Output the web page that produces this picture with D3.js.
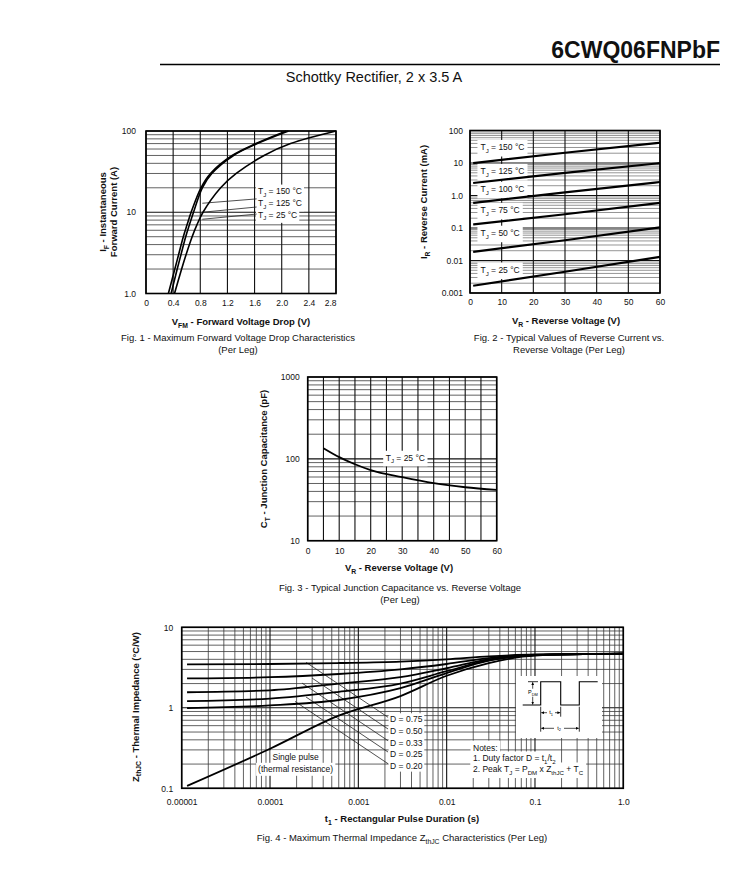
<!DOCTYPE html>
<html>
<head>
<meta charset="utf-8">
<script src="https://cdn.jsdelivr.net/npm/d3@7"></script>
<style>
  body { margin: 0; background: #fff; }
  svg { font-family: "Liberation Sans", Arial, Helvetica, sans-serif; }
</style>
</head>
<body>
<div class="chart"></div>
<script>
// Fig. 1 - max forward voltage drop, per leg
const fwdAmps     = [1, 2, 3, 5, 7, 10, 20, 30, 50, 70, 100];
const fwdVolts150 = [0.33, 0.425, 0.48, 0.55, 0.605, 0.665, 0.81, 0.95, 1.27, 1.62, 2.07];
const fwdVolts125 = [0.37, 0.46, 0.515, 0.585, 0.64, 0.70, 0.83, 0.97, 1.29, 1.64, 2.10];
const fwdVolts25  = [0.42, 0.525, 0.59, 0.68, 0.75, 0.84, 1.10, 1.33, 1.74, 2.13, 2.80];
const fwdTemps    = ["150", "125", "25"];
const fwdXTicks   = [0, 0.4, 0.8, 1.2, 1.6, 2.0, 2.4, 2.8];
const fwdXLabels  = ["0", "0.4", "0.8", "1.2", "1.6", "2.0", "2.4", "2.8"];
const fwdYTicks   = [1, 10, 100];
const fwdYLabels  = ["1.0", "10", "100"];

// Fig. 2 - reverse current (mA) vs reverse voltage
const revVolts   = [1, 30, 60];
const revTemps   = ["150", "125", "100", "75", "50", "25"];
const revmA150   = [9.9, 20.7, 41.9];
const revmA125   = [2.42, 5.0, 9.9];
const revmA100   = [0.59, 1.25, 2.6];
const revmA75    = [0.128, 0.265, 0.59];
const revmA50    = [0.0185, 0.042, 0.104];
const revmA25    = [0.00167, 0.0045, 0.013];
const revXTicks  = [0, 10, 20, 30, 40, 50, 60];
const revYTicks  = [0.001, 0.01, 0.1, 1, 10, 100];
const revYLabels = ["0.001", "0.01", "0.1", "1.0", "10", "100"];

// Fig. 3 - junction capacitance
const capVolts   = [5, 10, 15, 20, 30, 40, 50, 60];
const capPf      = [135, 105, 86, 73, 59.7, 50.4, 45, 41.7];
const capXTicks  = [0, 10, 20, 30, 40, 50, 60];
const capYTicks  = [10, 100, 1000];
const capYLabels = ["10", "100", "1000"];

// Fig. 4 - thermal impedance
const pulseSec    = [1.15e-5, 1e-4, 6e-4, 3e-3, 1e-2, 3e-2, 0.1, 1];
const zthD75      = [3.47, 3.5, 3.6, 3.75, 4.0, 4.35, 4.6, 4.7];
const zthD50      = [2.32, 2.4, 2.63, 3.0, 3.5, 4.15, 4.55, 4.7];
const zthD33      = [1.56, 1.65, 2.0, 2.4, 3.1, 4.0, 4.5, 4.7];
const zthD25      = [1.21, 1.3, 1.58, 2.0, 2.85, 3.9, 4.5, 4.7];
const zthD20      = [0.99, 1.07, 1.25, 1.75, 2.7, 3.85, 4.5, 4.7];
const zthSingle   = [0.107, 0.31, 0.8, 1.4, 2.5, 3.6, 4.45, 4.7];
const dutyLabels  = ["0.75", "0.50", "0.33", "0.25", "0.20"];
const zthXTicks   = [1e-5, 1e-4, 1e-3, 1e-2, 1e-1, 1];
const zthXLabels  = ["0.00001", "0.0001", "0.001", "0.01", "0.1", "1.0"];
const zthYTicks   = [0.1, 1, 10];
const zthYLabels  = ["0.1", "1", "10"];

const svg = d3.select('.chart')
  .append('svg')
  .attr('width', 748)
  .attr('height', 876);

svg.append('rect').attr('width', 748).attr('height', 876).attr('fill', '#fff');

// text with "_sub" parts
function rich(t, parts, size) {
  let shift = 0;
  parts.forEach(s => {
    const sub = s[0] === '_';
    const span = t.append('tspan').text(sub ? s.slice(1) : s);
    const want = sub ? size * 0.3 : 0;
    if (want !== shift) span.attr('dy', want - shift);
    if (sub) span.attr('font-size', size * 0.72);
    shift = want;
  });
  return t;
}

function isDecade(d) {
  const l = Math.log10(d);
  return Math.abs(l - Math.round(l)) < 1e-6;
}

function panel(p) {
  const g = svg.append('g').attr('transform', `translate(${p.left},${p.top})`);
  const x = (p.xLog ? d3.scaleLog() : d3.scaleLinear()).domain(p.xDomain).range([0, p.width]);
  const y = d3.scaleLog().domain(p.yDomain).range([p.height, 0]);
  const grid = g.append('g');
  const boxes = g.append('g');
  const marks = g.append('g');

  grid.append('g').selectAll('line')
    .data(y.ticks())
    .join('line')
    .attr('x1', 0).attr('x2', p.width)
    .attr('y1', d => y(d)).attr('y2', d => y(d))
    .attr('stroke', d => isDecade(d) ? '#111' : p.minor)
    .attr('stroke-width', d => isDecade(d) ? 1.1 : 0.8);

  grid.append('g').selectAll('line')
    .data(p.xLog ? x.ticks() : p.xGrid)
    .join('line')
    .attr('y1', 0).attr('y2', p.height)
    .attr('x1', d => x(d)).attr('x2', d => x(d))
    .attr('stroke', d => (p.xLog && !isDecade(d)) ? p.minor : '#111')
    .attr('stroke-width', d => (p.xLog && !isDecade(d)) ? 0.8 : 1.1);

  const xAxis = d3.axisBottom(x)
    .tickValues(p.xTicks)
    .tickFormat((d, i) => p.xLabels[i])
    .tickSize(0)
    .tickPadding(p.xPad);
  const yAxis = d3.axisLeft(y)
    .tickValues(p.yTicks)
    .tickFormat((d, i) => p.yLabels[i])
    .tickSize(0)
    .tickPadding(p.yPad);

  const xa = g.append('g')
    .attr('transform', `translate(0,${p.height})`)
    .call(xAxis);
  const ya = g.append('g').call(yAxis);
  [xa, ya].forEach(a => {
    a.select('.domain').remove();
    a.attr('font-family', null).attr('font-size', 8.5);
    a.selectAll('text').attr('fill', '#111');
  });

  g.append('rect')
    .attr('width', p.width).attr('height', p.height)
    .attr('fill', 'none').attr('stroke', '#000').attr('stroke-width', 1.6);

  return {g, x, y, boxes, marks, xa, ya};
}

function labelBox(p, px, py, parts, size, pad, anchor) {
  const t = p.marks.append('text')
    .attr('x', px).attr('y', py)
    .attr('font-size', size)
    .attr('dy', '0.35em')
    .attr('fill', '#111')
    .attr('text-anchor', anchor || 'start');
  rich(t, parts, size);
  const b = t.node().getBBox();
  p.boxes.append('rect')
    .attr('x', b.x - pad).attr('y', b.y - pad + 0.5)
    .attr('width', b.width + 2 * pad).attr('height', b.height + 2 * pad - 1)
    .attr('fill', '#fff');
  return t;
}

function pageText(x, y, parts, size, bold, anchor, rotate) {
  const t = svg.append('text')
    .attr('font-size', size)
    .attr('font-weight', bold ? 'bold' : null)
    .attr('text-anchor', anchor || 'middle')
    .attr('fill', '#111');
  if (rotate) t.attr('transform', `translate(${x},${y}) rotate(-90)`);
  else t.attr('x', x).attr('y', y);
  return rich(t, parts, size);
}

// ---- header
pageText(720, 58, ["6CWQ06FNPbF"], 23, true, 'end');
svg.append('line').attr('x1', 160).attr('x2', 720).attr('y1', 64.5).attr('y2', 64.5)
  .attr('stroke', '#000').attr('stroke-width', 1.3);
pageText(374, 82, ["Schottky Rectifier, 2 x 3.5 A"], 14.5, false);

// ---- Fig. 1
const p1 = panel({
  left: 146, top: 131, width: 190, height: 162.5,
  xDomain: [0, 2.8], yDomain: [1, 100],
  xGrid: fwdXTicks, xTicks: fwdXTicks, xLabels: fwdXLabels,
  yTicks: fwdYTicks, yLabels: fwdYLabels,
  xPad: 6, yPad: 10, minor: '#3a3a3a'
});
p1.xa.selectAll('text').filter((d, i) => i === fwdXTicks.length - 1).attr('text-anchor', 'end');

const fwdLine = d3.line()
  .x(d => p1.x(d[0]))
  .y(d => p1.y(d[1]))
  .curve(d3.curveCatmullRom.alpha(0.5));

// label boxes + leaders (150, 125, 25)
const fwdLabelAmps = [18.2, 12.9, 9.3];
const fwdLeadStart = [12.9, 10.0, 8.2];
const fwdLeadEnd   = [14.6, 11.6, 9.5];
fwdTemps.forEach((tmp, i) => {
  labelBox(p1, p1.x(1.65), p1.y(fwdLabelAmps[i]), ["T", "_J", " = " + tmp + " °C"], 8.5, 2);
  p1.marks.append('line')
    .attr('x1', p1.x(0.83)).attr('y1', p1.y(fwdLeadStart[i]))
    .attr('x2', p1.x(1.63)).attr('y2', p1.y(fwdLeadEnd[i]))
    .attr('stroke', '#222').attr('stroke-width', 0.8);
});

[fwdVolts150, fwdVolts125, fwdVolts25].forEach(vs => {
  p1.marks.append('path')
    .datum(vs.map((v, i) => [v, fwdAmps[i]]))
    .attr('d', fwdLine)
    .attr('fill', 'none').attr('stroke', '#000').attr('stroke-width', 1.6);
});

pageText(241, 325, ["V", "_FM", " - Forward Voltage Drop (V)"], 9.5, true);
pageText(106, 212, ["I", "_F", " - Instantaneous"], 9.5, true, 'middle', true);
pageText(117, 212, ["Forward Current (A)"], 9.5, true, 'middle', true);
pageText(238, 341, ["Fig. 1 - Maximum Forward Voltage Drop Characteristics"], 9.5, false);
pageText(238, 353, ["(Per Leg)"], 9.5, false);

// ---- Fig. 2
const p2 = panel({
  left: 470, top: 130.5, width: 190, height: 162.5,
  xDomain: [0, 60], yDomain: [0.001, 100],
  xGrid: revXTicks, xTicks: revXTicks, xLabels: revXTicks.map(String),
  yTicks: revYTicks, yLabels: revYLabels,
  xPad: 6, yPad: 7, minor: '#7a7a7a'
});

const revLine = d3.line()
  .x(d => p2.x(d[0]))
  .y(d => p2.y(d[1]))
  .curve(d3.curveMonotoneX);

const revLabelmA = [30, 5.5, 1.55, 0.35, 0.069, 0.0051];
revTemps.forEach((tmp, i) => {
  labelBox(p2, p2.x(3.3), p2.y(revLabelmA[i]), ["T", "_J", " = " + tmp + " °C"], 8.5, 3);
});

[revmA150, revmA125, revmA100, revmA75, revmA50, revmA25].forEach(ms => {
  p2.marks.append('path')
    .datum(ms.map((m, i) => [revVolts[i], m]))
    .attr('d', revLine)
    .attr('fill', 'none').attr('stroke', '#000').attr('stroke-width', 2.2);
});

pageText(566, 324, ["V", "_R", " - Reverse Voltage (V)"], 9.5, true);
pageText(427, 202, ["I", "_R", " - Reverse Current (mA)"], 9.5, true, 'middle', true);
pageText(569, 341, ["Fig. 2 - Typical Values of Reverse Current vs."], 9.5, false);
pageText(569, 353, ["Reverse Voltage (Per Leg)"], 9.5, false);

// ---- Fig. 3
const p3 = panel({
  left: 307.7, top: 377, width: 189, height: 163.7,
  xDomain: [0, 60], yDomain: [10, 1000],
  xGrid: d3.range(0, 61, 5), xTicks: capXTicks, xLabels: capXTicks.map(String),
  yTicks: capYTicks, yLabels: capYLabels,
  xPad: 7, yPad: 8, minor: '#3a3a3a'
});

labelBox(p3, p3.x(31), p3.y(103), ["T", "_J", " = 25 °C"], 8.5, 2.5, 'middle');

p3.marks.append('path')
  .datum(capPf.map((c, i) => [capVolts[i], c]))
  .attr('d', d3.line().x(d => p3.x(d[0])).y(d => p3.y(d[1])).curve(d3.curveMonotoneX))
  .attr('fill', 'none').attr('stroke', '#000').attr('stroke-width', 1.8);

pageText(399, 571, ["V", "_R", " - Reverse Voltage (V)"], 9.5, true);
pageText(267, 459, ["C", "_T", " - Junction Capacitance (pF)"], 9.5, true, 'middle', true);
pageText(400, 591, ["Fig. 3 - Typical Junction Capacitance vs. Reverse Voltage"], 9.5, false);
pageText(400, 603, ["(Per Leg)"], 9.5, false);

// ---- Fig. 4
const p4 = panel({
  left: 181.7, top: 627.3, width: 441.6, height: 161,
  xLog: true, xDomain: [1e-5, 1], yDomain: [0.1, 10],
  xTicks: zthXTicks, xLabels: zthXLabels,
  yTicks: zthYTicks, yLabels: zthYLabels,
  xPad: 10.5, yPad: 8.5, minor: '#3a3a3a'
});

const zthLine = d3.line()
  .x(d => p4.x(d[0]))
  .y(d => p4.y(d[1]))
  .curve(d3.curveMonotoneX);

// white area behind the pulse inset
p4.boxes.append('rect').attr('x', 516 - 181.7).attr('y', 676 - 627.3)
  .attr('width', 86).attr('height', 62).attr('fill', '#fff');

// D labels and their leaders
const leadStartT = [2.56e-4, 2.99e-4, 2.3e-4, 2.56e-4, 1.92e-4];
const leadStartZ = [3.67, 2.34, 2.03, 1.36, 1.2];
const leadEndZ   = [0.762, 0.545, 0.39, 0.282, 0.202];
const dLabelZ    = [0.72, 0.515, 0.368, 0.267, 0.191];
dutyLabels.forEach((dl, i) => {
  labelBox(p4, p4.x(2.29e-3), p4.y(dLabelZ[i]), ["D = " + dl], 8.5, 1.5);
});
dutyLabels.forEach((dl, i) => {
  p4.marks.append('line')
    .attr('x1', p4.x(leadStartT[i])).attr('y1', p4.y(leadStartZ[i]))
    .attr('x2', p4.x(2.17e-3)).attr('y2', p4.y(leadEndZ[i]))
    .attr('stroke', '#222').attr('stroke-width', 0.8);
});

labelBox(p4, p4.x(1.95e-4), p4.y(0.247), ["Single pulse"], 8.5, 2, 'middle');
labelBox(p4, p4.x(1.95e-4), p4.y(0.172), ["(thermal resistance)"], 8.5, 2, 'middle');

const notesX = 473 - 181.7;
labelBox(p4, notesX, 747.7 - 627.3, ["Notes:"], 8.5, 2.5);
labelBox(p4, notesX, 758.5 - 627.3, ["1. Duty factor D = t", "_1", "/t", "_2"], 8.5, 2.5);
labelBox(p4, notesX, 769.5 - 627.3, ["2. Peak T", "_J", " = P", "_DM", " x Z", "_thJC", " + T", "_C"], 8.5, 2.5);

[zthD75, zthD50, zthD33, zthD25, zthD20, zthSingle].forEach(zs => {
  p4.marks.append('path')
    .datum(zs.map((z, i) => [pulseSec[i], z]))
    .attr('d', zthLine)
    .attr('fill', 'none').attr('stroke', '#000').attr('stroke-width', 1.8);
});

// pulse train inset
const defs = svg.append('defs');
defs.append('marker')
  .attr('id', 'arr').attr('viewBox', '0 0 6 6').attr('refX', 6).attr('refY', 3)
  .attr('markerWidth', 4).attr('markerHeight', 4).attr('orient', 'auto-start-reverse')
  .append('path').attr('d', 'M0,0L6,3L0,6Z').attr('fill', '#000');

const inset = svg.append('g').attr('transform', 'translate(522,681.7)');
inset.append('path')
  .attr('d', 'M0.7,23.3H18.7V0H38.7V23.3H57.3V0H75.7')
  .attr('fill', 'none').attr('stroke', '#000').attr('stroke-width', 1.1);
inset.append('path')
  .attr('d', 'M6,0H16M18.7,25V50M38.7,25V35M57.3,25V50')
  .attr('fill', 'none').attr('stroke', '#000').attr('stroke-width', 0.8);
inset.append('line').attr('x1', 10.7).attr('x2', 10.7).attr('y1', 0.5).attr('y2', 22.8)
  .attr('stroke', '#000').attr('stroke-width', 0.7)
  .attr('marker-start', 'url(#arr)').attr('marker-end', 'url(#arr)');
inset.append('rect').attr('x', 6).attr('y', 7).attr('width', 10).attr('height', 8).attr('fill', '#fff');
rich(inset.append('text').attr('x', 11).attr('y', 12.5).attr('font-size', 5.5)
  .attr('text-anchor', 'middle'), ["P", "_DM"], 5.5);

inset.append('line').attr('x1', 19.2).attr('x2', 38.2).attr('y1', 31).attr('y2', 31)
  .attr('stroke', '#000').attr('stroke-width', 0.7)
  .attr('marker-start', 'url(#arr)').attr('marker-end', 'url(#arr)');
inset.append('rect').attr('x', 25).attr('y', 27).attr('width', 8).attr('height', 8).attr('fill', '#fff');
rich(inset.append('text').attr('x', 29).attr('y', 32.5).attr('font-size', 5.5)
  .attr('text-anchor', 'middle'), ["t", "_1"], 5.5);

inset.append('line').attr('x1', 19.2).attr('x2', 56.8).attr('y1', 46.6).attr('y2', 46.6)
  .attr('stroke', '#000').attr('stroke-width', 0.7)
  .attr('marker-start', 'url(#arr)').attr('marker-end', 'url(#arr)');
inset.append('rect').attr('x', 32).attr('y', 42.6).attr('width', 10).attr('height', 8).attr('fill', '#fff');
rich(inset.append('text').attr('x', 37).attr('y', 48).attr('font-size', 5.5)
  .attr('text-anchor', 'middle'), ["t", "_2"], 5.5);

pageText(402, 822, ["t", "_1", " - Rectangular Pulse Duration (s)"], 9.5, true);
pageText(138.5, 707, ["Z", "_thJC", " - Thermal Impedance (°C/W)"], 9.5, true, 'middle', true);
pageText(402, 841, ["Fig. 4 - Maximum Thermal Impedance Z", "_thJC", " Characteristics (Per Leg)"], 9.5, false);
</script>
</body>
</html>
